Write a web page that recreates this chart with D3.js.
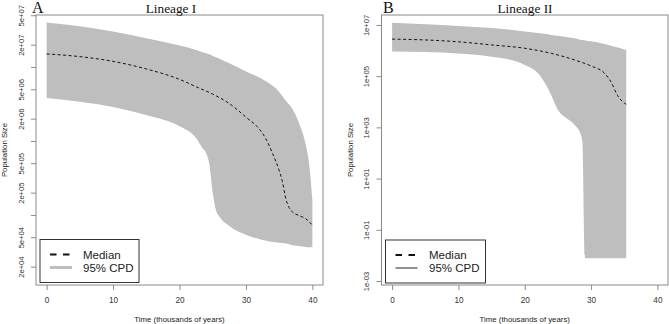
<!DOCTYPE html>
<html>
<head>
<meta charset="utf-8">
<script src="https://cdn.jsdelivr.net/npm/d3@7"></script>
<style>
  html, body { margin: 0; padding: 0; background: #fff; }
  svg { display: block; }
  .tick text { font-family: "Liberation Sans", Arial, sans-serif; fill: #333; }
  .tick line { stroke: #8a8a8a; }
  .axis-title { font-family: "Liberation Sans", Arial, sans-serif; font-size: 7.8px; fill: #222; }
  .panel-title { font-family: "Liberation Serif", "Times New Roman", serif; fill: #111; }
  .legend-text { font-family: "Liberation Sans", Arial, sans-serif; font-size: 11.5px; fill: #222; }
</style>
</head>
<body>
<svg id="chart" width="669" height="324"></svg>
<script>
/* Skyline plots: two lineages, log population size vs time.
   Values. */

const xTicks = [0, 10, 20, 30, 40];

// ---- Lineage I ----
const bandTimeA = [0, 5, 10, 15, 20, 22.5, 23.5, 24, 24.5, 25, 25.5, 26, 27.5, 30, 32.5, 35, 36, 37, 38, 39, 39.5, 40];
const upperA = [3.98e7, 3.55e7, 3.02e7, 2.45e7, 1.95e7, 1.70e7, 1.58e7, 1.53e7, 1.48e7, 1.41e7, 1.35e7, 1.29e7, 1.12e7, 8.7e6, 6.8e6, 4.6e6, 3.5e6, 2.7e6, 1.74e6, 8.9e5, 5.0e5, 1.6e5];
const lowerA = [3.8e6, 3.39e6, 2.88e6, 2.24e6, 1.58e6, 1.10e6, 7.9e5, 6.9e5, 4.8e5, 2.0e5, 1.15e5, 9.5e4, 7.1e4, 5.4e4, 4.6e4, 4.2e4, 4.1e4, 3.9e4, 3.8e4, 3.7e4, 3.67e4, 3.66e4];
const medTimeA = [0, 5, 10, 15, 20, 22.5, 25, 27.5, 30, 32, 33, 34, 35, 35.5, 36, 36.5, 37, 38, 39, 40];
const medianA = [1.50e7, 1.38e7, 1.19e7, 9.4e6, 6.8e6, 5.4e6, 4.3e6, 3.2e6, 2.1e6, 1.45e6, 1.07e6, 6.8e5, 4.0e5, 2.8e5, 1.66e5, 1.26e5, 1.10e5, 9.8e4, 8.9e4, 7.3e4];
const yTicksA = [2e4, 5e4, 1e5, 2e5, 5e5, 1e6, 2e6, 5e6, 1e7, 2e7, 5e7];
const yLabelsA = ["2e+04", "5e+04", "", "2e+05", "5e+05", "", "2e+06", "5e+06", "", "2e+07", "5e+07"];

// ---- Lineage II ----
const bandTimeB = [0, 5, 10, 15, 17.5, 20, 22, 23, 24, 25, 26, 27.5, 28.5, 28.7, 29.1, 30, 33, 35.3];
const upperB = [1.23e7, 1.07e7, 9.1e6, 7.6e6, 6.6e6, 5.6e6, 4.9e6, 4.5e6, 4.1e6, 3.8e6, 3.5e6, 3.0e6, 2.6e6, 2.57e6, 2.45e6, 2.3e6, 1.55e6, 1.05e6];
const lowerB = [9.1e5, 8.7e5, 7.6e5, 5.8e5, 4.6e5, 2.75e5, 1.29e5, 5.6e4, 1.8e4, 4.8e3, 2.6e3, 1.26e3, 480, 250, 7.8e-3, 7.8e-3, 7.8e-3, 7.8e-3];
const medTimeB = [0, 5, 10, 15, 20, 24, 27.5, 30, 32, 33, 34, 35.3];
const medianB = [2.8e6, 2.6e6, 2.2e6, 1.66e6, 1.23e6, 7.8e5, 4.3e5, 2.5e5, 1.32e5, 6.0e4, 1.74e4, 7.9e3];
const yTicksB = [1e-3, 1e-1, 1e1, 1e3, 1e5, 1e7];
const yLabelsB = ["1e-03", "1e-01", "1e+01", "1e+03", "1e+05", "1e+07"];

const legendLabels = ["Median", "95% CPD"];

const svg = d3.select("#chart");
const BAND = "#bebebe";

function drawPanel(p) {
  const top = 15, bottom = 285;
  const g = svg.append("g");

  const x = d3.scaleLinear().domain([-1.6, 41.6]).range([p.left, p.right]);
  const y = d3.scaleLog().domain(p.yDomain).range([bottom, top]);

  // 95% band
  const band = p.bandTime.map((t, i) => ({ t, lo: p.lower[i], hi: p.upper[i] }));
  g.append("path")
    .datum(band)
    .attr("fill", BAND)
    .attr("d", d3.area()
      .x(d => x(d.t)).y0(d => y(d.lo)).y1(d => y(d.hi))
      .curve(d3.curveMonotoneX));

  // median
  const med = p.medTime.map((t, i) => ({ t, v: p.median[i] }));
  g.append("path")
    .datum(med)
    .attr("fill", "none")
    .attr("stroke", "#111")
    .attr("stroke-width", 1)
    .attr("stroke-dasharray", "3,2.5")
    .attr("d", d3.line().x(d => x(d.t)).y(d => y(d.v)).curve(d3.curveMonotoneX));

  // box
  g.append("rect")
    .attr("x", p.left).attr("y", top)
    .attr("width", p.right - p.left).attr("height", bottom - top)
    .attr("fill", "none").attr("stroke", "#8a8a8a").attr("stroke-width", 1);

  // x axis
  const xa = g.append("g").attr("transform", `translate(0,${bottom})`)
    .call(d3.axisBottom(x).tickValues(xTicks).tickSize(5).tickPadding(7).tickFormat(d3.format("d")));
  xa.select(".domain").remove();
  xa.selectAll("text").attr("font-size", 8.2);

  // y axis, labels rotated like R's default
  const ya = g.append("g").attr("transform", `translate(${p.left},0)`)
    .call(d3.axisLeft(y).tickValues(p.yTicks).tickSize(5).tickFormat((d, i) => p.yLabels[i]));
  ya.select(".domain").remove();
  ya.selectAll("text")
    .attr("font-size", 7.6)
    .attr("transform", "rotate(-90)")
    .attr("text-anchor", "middle")
    .attr("x", 0).attr("y", -15).attr("dy", "0.35em");

  // titles
  g.append("text").attr("class", "axis-title")
    .attr("x", (x(0) + x(40)) / 2).attr("y", 322)
    .attr("text-anchor", "middle").text("Time (thousands of years)");
  g.append("text").attr("class", "axis-title")
    .attr("transform", `translate(${p.left - 29},150) rotate(-90)`)
    .attr("text-anchor", "middle").text("Population Size");
  g.append("text").attr("class", "panel-title")
    .attr("x", p.letterX).attr("y", 12.5).attr("font-size", 16).text(p.letter);
  g.append("text").attr("class", "panel-title")
    .attr("x", p.titleX).attr("y", 12.5).attr("font-size", 13.3)
    .attr("text-anchor", "middle").text(p.title);

  // legend
  const lg = g.append("g").attr("transform", `translate(${p.legendX},${p.legendY})`);
  lg.append("rect").attr("width", p.legendW).attr("height", 43)
    .attr("fill", "#fff").attr("stroke", "#333").attr("stroke-width", 1);
  lg.append("line").attr("x1", 10).attr("x2", 32).attr("y1", 15).attr("y2", 15)
    .attr("stroke", "#111").attr("stroke-width", 1.8).attr("stroke-dasharray", "6.5,6.5");
  lg.append("line").attr("x1", 10).attr("x2", 32).attr("y1", 28).attr("y2", 28)
    .attr("stroke", p.cpdColor).attr("stroke-width", p.cpdWidth);
  lg.selectAll("text.legend-text").data(legendLabels).join("text")
    .attr("class", "legend-text")
    .attr("x", p.legendTextX).attr("y", (d, i) => 15 + 13 * i).attr("dy", "0.36em")
    .text(d => d);
}

drawPanel({
  left: 36, right: 323, yDomain: [1.13e4, 5.04e7],
  bandTime: bandTimeA, upper: upperA, lower: lowerA,
  medTime: medTimeA, median: medianA,
  yTicks: yTicksA, yLabels: yLabelsA,
  letter: "A", letterX: 32, title: "Lineage I", titleX: 171,
  legendX: 40, legendY: 239.5, legendW: 99, legendTextX: 43,
  cpdColor: BAND, cpdWidth: 3
});

drawPanel({
  left: 381.5, right: 668, yDomain: [6.98e-4, 2.45e7],
  bandTime: bandTimeB, upper: upperB, lower: lowerB,
  medTime: medTimeB, median: medianB,
  yTicks: yTicksB, yLabels: yLabelsB,
  letter: "B", letterX: 383, title: "Lineage II", titleX: 525,
  legendX: 385.5, legendY: 240, legendW: 100, legendTextX: 43.5,
  cpdColor: "#222", cpdWidth: 1
});
</script>
</body>
</html>
